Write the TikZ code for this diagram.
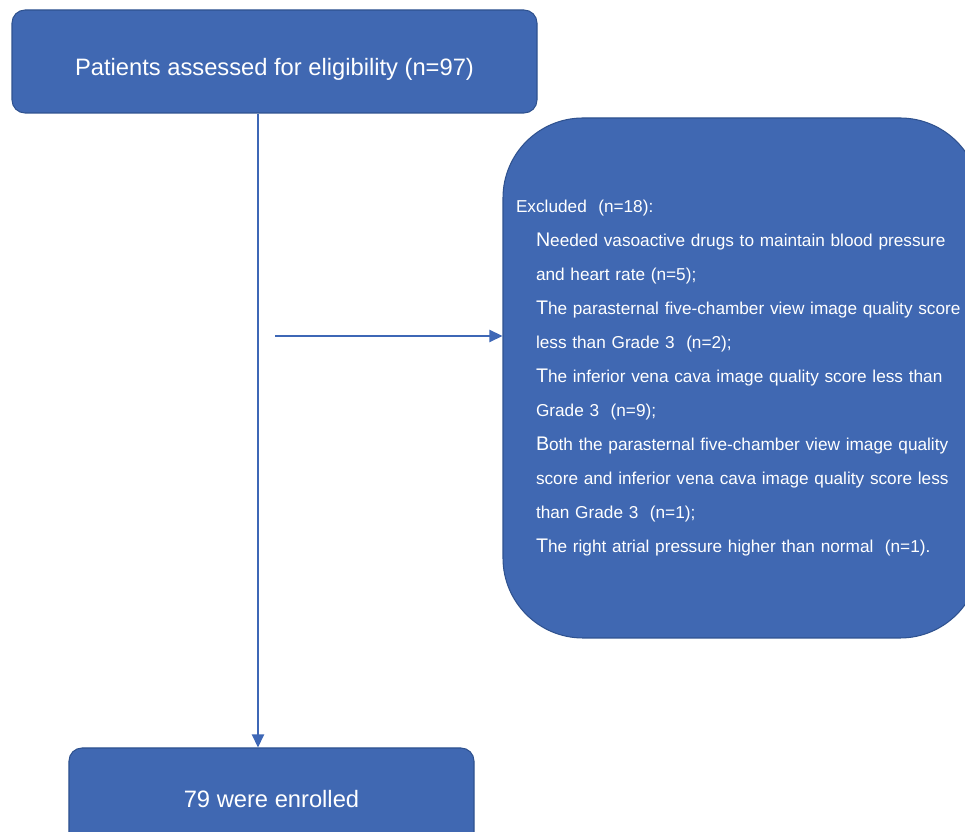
\documentclass[tikz,border=0pt]{standalone}
\usepackage{fontspec}
\setmainfont{Liberation Sans}
\usetikzlibrary{arrows.meta}
\definecolor{boxfill}{HTML}{4068B2}
\definecolor{boxline}{HTML}{2F528F}
\definecolor{flowline}{HTML}{3E67B6}
\newcommand{\firstch}[1]{{\fontsize{11.2}{19.3}\selectfont #1}}
\begin{document}
\begin{tikzpicture}[
every node/.style = {shape=rectangle, align=center, text=white},
flowbox/.style = {draw=boxline, fill=boxfill, line width=0.6pt, rounded corners=0.26cm, font=\fontsize{13.5}{16}\selectfont},
flowarrow/.style = {draw=flowline, line width=1pt, -{Triangle[length=7.5pt,width=7pt]}}]
%
\clip (0,0) rectangle (19.3,-16.64);
\node [flowbox, minimum width=10.5cm, minimum height=2.06cm, text height=0.65cm, text depth=0.1cm] (assessed) at (5.49,-1.23) {Patients assessed for eligibility (n=97)};
\node [flowbox, minimum width=8.1cm, minimum height=2.06cm] (enrolled) at (5.43,-15.99) {79 were enrolled};
\node [flowbox, rounded corners=1.6cm, align=left, text width=9.02cm, inner xsep=0.26cm, minimum height=10.4cm, font=\fontsize{9.8}{19.3}\selectfont] (excluded) at (14.83,-7.56) {%
Excluded\ \ (n=18):\\
\hspace*{0.4cm}\firstch{N}eeded vasoactive drugs to maintain blood pressure\\
\hspace*{0.4cm}and heart rate (n=5);\\
\hspace*{0.4cm}\mbox{\firstch{T}he parasternal five-chamber view image quality score}\\
\hspace*{0.4cm}less than Grade 3\ \ (n=2);\\
\hspace*{0.4cm}\firstch{T}he inferior vena cava image quality score less than\\
\hspace*{0.4cm}Grade 3\ \ (n=9);\\
\hspace*{0.4cm}\mbox{\firstch{B}oth the parasternal five-chamber view image quality}\\
\hspace*{0.4cm}\mbox{score and inferior vena cava image quality score less}\\
\hspace*{0.4cm}than Grade 3\ \ (n=1);\\
\hspace*{0.4cm}\firstch{T}he right atrial pressure higher than normal\ \ (n=1).};
%
\path (assessed.south) ++(-0.33,0) coordinate (trunk);
\coordinate (split) at (5.5,-6.72);
\draw [flowarrow] (trunk) -- (trunk |- enrolled.north);
\draw [flowarrow] (split) -- (split -| excluded.west);
\end{tikzpicture}
\end{document}
